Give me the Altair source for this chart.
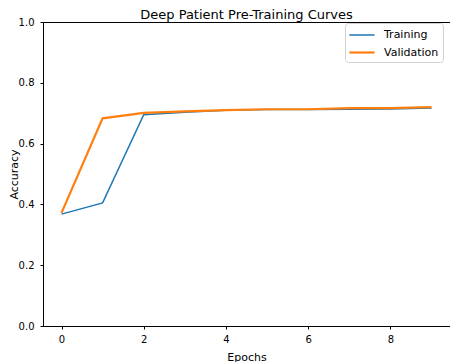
import altair as alt
import pandas as pd

epochs = [0, 1, 2, 3, 4, 5, 6, 7, 8, 9]
training = [0.368, 0.405, 0.695, 0.703, 0.710, 0.712, 0.712, 0.713, 0.714, 0.717]
validation = [0.372, 0.683, 0.701, 0.706, 0.710, 0.713, 0.713, 0.717, 0.717, 0.720]
series_names = ["Training", "Validation"]
series_colors = ["#1f77b4", "#ff7f0e"]
x_ticks = [0, 2, 4, 6, 8]
y_ticks = [0.0, 0.2, 0.4, 0.6, 0.8, 1.0]

rows = []
for e, t, v in zip(epochs, training, validation):
    rows.append({"epoch": e, "series": "Training", "acc": t})
    rows.append({"epoch": e, "series": "Validation", "acc": v})
df = pd.DataFrame(rows)

legend = alt.Legend(orient="none", legendX=302, legendY=1,
                    symbolType="M-1.8,0H1.8", symbolSize=196, symbolOffset=4.5)

chart = alt.Chart(df).mark_line().encode(
    x=alt.X("epoch:Q",
            scale=alt.Scale(domain=[-0.45, 9.45], nice=False, zero=False),
            axis=alt.Axis(values=x_ticks, title="Epochs", format="d",
                          titleY=34, titleBaseline="alphabetic")),
    y=alt.Y("acc:Q",
            scale=alt.Scale(domain=[0, 1], nice=False),
            axis=alt.Axis(values=y_ticks, title="Accuracy", format=".1f",
                          titleX=-34.5, titleY=152, titleAngle=270,
                          titleAlign="center", titleBaseline="top")),
    color=alt.Color("series:N",
                    scale=alt.Scale(domain=series_names, range=series_colors),
                    title=None, legend=legend),
    strokeWidth=alt.StrokeWidth("series:N",
                                scale=alt.Scale(domain=series_names, range=[1.5, 2.2]),
                                title=None, legend=legend),
    detail="series:N",
).properties(
    width=407,
    height=304,
    autosize=alt.AutoSizeParams(type="none"),
    padding={"left": 35, "top": 14, "right": 0, "bottom": 36},
    title=alt.TitleParams("Deep Patient Pre-Training Curves", fontSize=13,
                          fontWeight="normal", color="black", anchor="middle",
                          baseline="alphabetic", offset=0, dy=15),
).configure(
    font="DejaVu Sans",
).configure_view(
    stroke="black", strokeWidth=1,
).configure_axis(
    grid=False,
    domainColor="black",
    tickColor="black",
    tickSize=3,
    labelFontSize=10,
    labelColor="black",
    titleFontSize=11,
    titleFontWeight="normal",
    titleColor="black",
).configure_axisX(
    labelPadding=5,
).configure_axisY(
    labelPadding=6,
).configure_legend(
    strokeColor="#d0d0d0",
    fillColor="white",
    cornerRadius=3,
    padding=4,
    labelFontSize=11,
    labelColor="black",
    labelOffset=13.5,
    rowPadding=4,
)

chart.save("out.html", embed_options={"renderer": "svg", "actions": False})
